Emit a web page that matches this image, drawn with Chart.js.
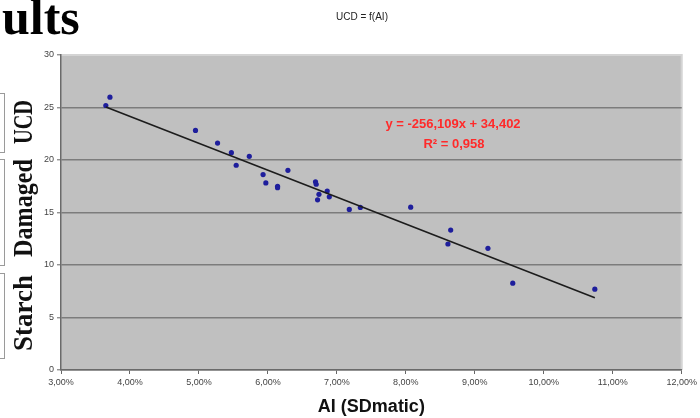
<!DOCTYPE html>
<html>
<head>
<meta charset="utf-8">
<script src="https://cdn.jsdelivr.net/npm/chart.js@4/dist/chart.umd.min.js"></script>
<style>
  html, body { margin: 0; padding: 0; background: #fff; }
</style>
</head>
<body>
<canvas id="ucdChart" width="700" height="418"></canvas>
<script>
// AI (SDmatic) in %, UCD
const aiValues = [3.65, 3.71, 4.95, 5.27, 5.47, 5.54, 5.73, 5.93, 5.97, 6.14, 6.14, 6.29, 6.69,
    6.70, 6.74, 6.72, 6.86, 6.89, 7.18, 7.34, 8.07, 8.65, 8.61, 9.19, 9.55, 10.74];
const ucdValues = [25.19, 25.98, 22.82, 21.61, 20.70, 19.50, 20.35, 18.61, 17.82, 17.50, 17.36, 19.02, 17.93,
    17.69, 16.73, 16.21, 17.05, 16.49, 15.29, 15.48, 15.51, 13.33, 12.00, 11.59, 8.27, 7.70];
// linear trend line ends
const trendX = [3.65, 10.74];
const trendY = [25.05, 6.89];
const yTicks = [0, 5, 10, 15, 20, 25, 30];
const xTicks = [3, 4, 5, 6, 7, 8, 9, 10, 11, 12];
const equationText = ["y = -256,109x + 34,402", "R² = 0,958"];
const axisWords = ["UCD", "Damaged", "Starch"];

const points = aiValues.map((x, i) => ({ x: x, y: ucdValues[i] }));
const trend = trendX.map((x, i) => ({ x: x, y: trendY[i] }));

var fmtPct = (v) => v.toFixed(2).replace('.', ',') + '%';

const extras = {
    id: 'extras',
    beforeDraw(chart) {
        const ctx = chart.ctx, a = chart.chartArea;
        ctx.save();
        ctx.fillStyle = '#c0c0c0';
        ctx.fillRect(a.left, a.top, a.right - a.left, a.bottom - a.top);
        ctx.strokeStyle = '#d4d4d4';
        ctx.lineWidth = 2;
        ctx.beginPath();
        ctx.moveTo(a.left, a.top);
        ctx.lineTo(a.right, a.top);
        ctx.lineTo(a.right, a.bottom);
        ctx.stroke();
        ctx.restore();
    },
    afterDraw(chart) {
        const ctx = chart.ctx;
        ctx.save();
        // cut slide heading
        ctx.fillStyle = '#000';
        ctx.font = "bold 50px 'Liberation Serif'";
        ctx.textBaseline = 'alphabetic';
        ctx.textAlign = 'left';
        ctx.fillText('ults', 2, 34);

        // chart title
        ctx.font = "10px 'Liberation Sans'";
        ctx.textAlign = 'center';
        ctx.textBaseline = 'middle';
        ctx.fillStyle = '#222';
        ctx.fillText('UCD = f(AI)', 362, 17);

        // left slide frames
        ctx.strokeStyle = '#9a9a9a';
        ctx.lineWidth = 1;
        [[93, 152], [159, 265], [273, 358]].forEach((b) => {
            ctx.strokeRect(-10, b[0] + 0.5, 14.5, b[1] - b[0]);
        });

        // vertical label
        ctx.fillStyle = '#111';
        ctx.font = "bold 27px 'Liberation Serif'";
        ctx.textAlign = 'center';
        ctx.textBaseline = 'alphabetic';
        const spots = [[122, 44], [208, 98], [313, 92]];
        axisWords.forEach((w, i) => {
            ctx.save();
            ctx.translate(32, spots[i][0]);
            ctx.rotate(-Math.PI / 2);
            ctx.fillText(w, 0, 0, spots[i][1]);
            ctx.restore();
        });

        // regression text
        ctx.fillStyle = '#ff2a2a';
        ctx.font = "bold 13px 'Liberation Sans'";
        ctx.textBaseline = 'middle';
        ctx.fillText(equationText[0], 453, 124);
        ctx.fillText(equationText[1], 454, 144);
        ctx.restore();
    }
};

window.onload = function() {
    new Chart(document.getElementById('ucdChart'), {
        type: 'scatter',
        data: {
            datasets: [
                {
                    label: 'UCD',
                    data: points,
                    backgroundColor: '#1e1e9c',
                    borderColor: '#1e1e9c',
                    pointRadius: 2.6,
                    pointBorderWidth: 0
                },
                {
                    label: 'Trend',
                    type: 'line',
                    data: trend,
                    borderColor: '#1c1c1c',
                    borderWidth: 1.6,
                    pointRadius: 0,
                    fill: false,
                    order: -1
                }
            ]
        },
        options: {
            responsive: false,
            animation: false,
            devicePixelRatio: 1,
            layout: { padding: { top: 55, left: 0, right: 6, bottom: 0 } },
            plugins: {
                legend: { display: false },
                tooltip: { enabled: false },
                title: { display: false }
            },
            scales: {
                x: {
                    type: 'linear',
                    min: xTicks[0],
                    max: xTicks[xTicks.length - 1],
                    afterBuildTicks: (s) => { s.ticks = xTicks.map((v) => ({ value: v })); },
                    afterFit: (s) => { s.height = 48; },
                    ticks: {
                        callback: (v) => fmtPct(v),
                        font: { family: 'Liberation Sans', size: 9 },
                        color: '#444',
                        padding: 3,
                        maxRotation: 0
                    },
                    grid: { drawOnChartArea: false, tickLength: 4, tickColor: '#666', tickWidth: 1 },
                    border: { color: '#6a6a6a', width: 1.5 },
                    title: {
                        display: true,
                        text: 'AI (SDmatic)',
                        font: { family: 'Liberation Sans', size: 18, weight: 'bold' },
                        color: '#111',
                        padding: { top: 6, bottom: 0 }
                    }
                },
                y: {
                    min: yTicks[0],
                    max: yTicks[yTicks.length - 1],
                    afterBuildTicks: (s) => { s.ticks = yTicks.map((v) => ({ value: v })); },
                    afterFit: (s) => { s.width = 61; },
                    ticks: {
                        font: { family: 'Liberation Sans', size: 9 },
                        color: '#444',
                        padding: 3
                    },
                    grid: {
                        color: (c) => (c.tick && c.tick.value === 30 ? 'rgba(0,0,0,0)' : '#7c7c7c'),
                        lineWidth: 1.6,
                        tickLength: 4,
                        tickColor: '#666',
                        tickWidth: 1
                    },
                    border: { color: '#6a6a6a', width: 1.5 }
                }
            }
        },
        plugins: [extras]
    });
}
</script>
</body>
</html>
